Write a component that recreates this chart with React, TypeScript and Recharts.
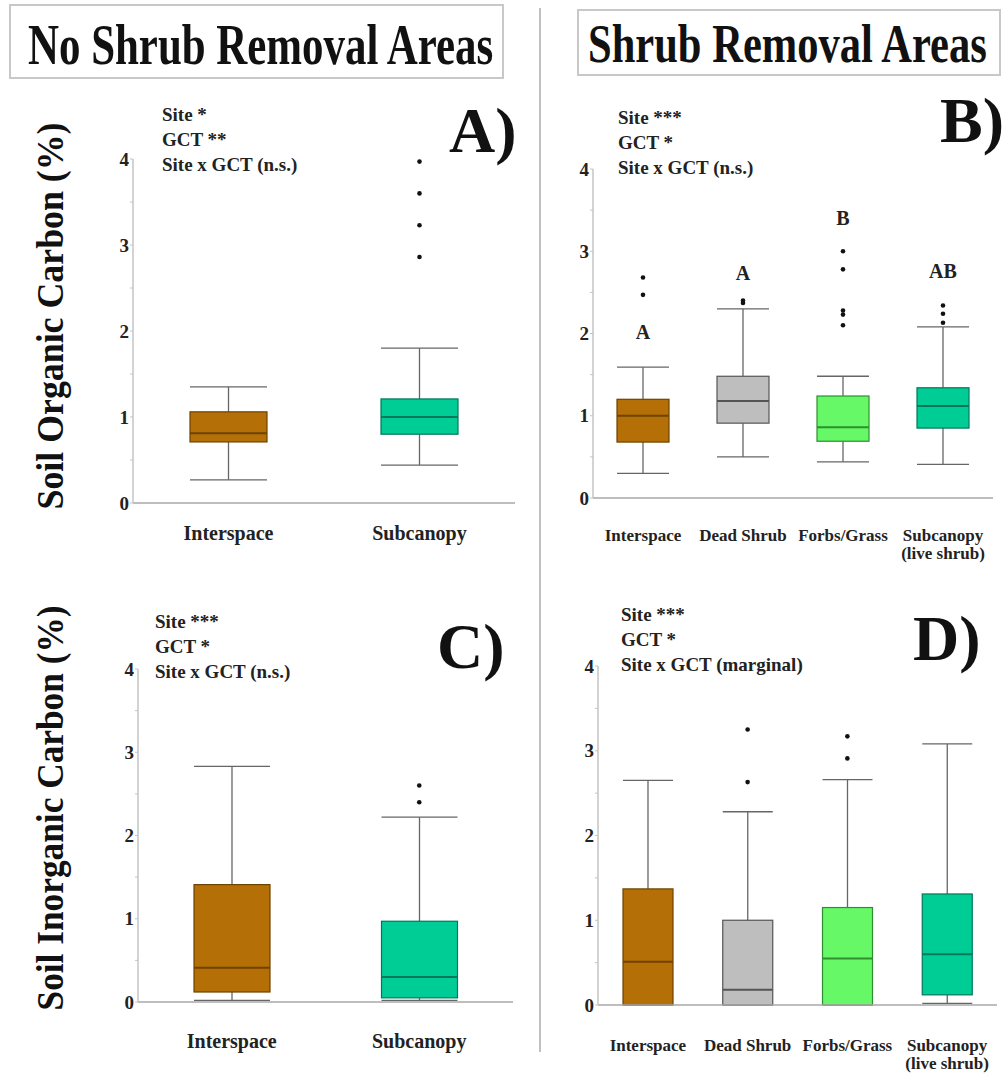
import React from 'react';
import { ComposedChart, Bar, Scatter, XAxis, YAxis } from 'recharts';

const serif = '"Liberation Serif", "Times New Roman", serif';

// categories
const twoGroups = ['Interspace', 'Subcanopy'];
const fourGroups = ['Interspace', 'Dead Shrub', 'Forbs/Grass', 'Subcanopy\n(live shrub)'];

// box colours per category
const twoFills = ['#b46f06', '#00cc96'];
const twoLines = ['#6e4200', '#00775a'];
const fourFills = ['#b46f06', '#bebebe', '#66f866', '#00cc96'];
const fourLines = ['#6e4200', '#555555', '#2f8f2f', '#00775a'];

// [low whisker, Q1, median, Q3, high whisker]
const organicNoRemoval = [
  [0.27, 0.71, 0.81, 1.06, 1.35],
  [0.44, 0.8, 1.0, 1.21, 1.8],
];
const organicRemoval = [
  [0.3, 0.68, 1.0, 1.2, 1.59],
  [0.5, 0.91, 1.18, 1.48, 2.3],
  [0.44, 0.69, 0.86, 1.24, 1.48],
  [0.41, 0.85, 1.12, 1.34, 2.08],
];
const inorganicNoRemoval = [
  [0.02, 0.12, 0.41, 1.41, 2.83],
  [0.02, 0.05, 0.3, 0.97, 2.22],
];
const inorganicRemoval = [
  [0.0, 0.0, 0.51, 1.37, 2.65],
  [0.0, 0.0, 0.18, 1.0, 2.28],
  [0.0, 0.0, 0.55, 1.15, 2.66],
  [0.02, 0.12, 0.6, 1.31, 3.08],
];

// outliers per category
const outliersA = [[], [3.97, 3.6, 3.23, 2.86]];
const outliersB = [[2.68, 2.47], [2.37, 2.4], [3.0, 2.78, 2.28, 2.23, 2.1], [2.34, 2.24, 2.13]];
const outliersC = [[], [2.6, 2.4]];
const outliersD = [[], [3.25, 2.63], [3.17, 2.91], []];

// group letters (panel B) and their heights
const lettersB = ['A', 'A', 'B', 'AB'];
const letterYB = [2.02, 2.73, 3.41, 2.76];

const yTicks = [0, 0.5, 1, 1.5, 2, 2.5, 3, 3.5, 4];

const CatTick = (props: any) => {
  const { x, y, payload, fontSize, dy, gap } = props;
  const lines = String(payload.value).split('\n');
  return (
    <text x={x} y={y + dy} textAnchor="middle" fontFamily={serif} fontWeight="bold" fontSize={fontSize} fill="#222">
      {lines.map((l: string, i: number) => (
        <tspan key={i} x={x} dy={i === 0 ? 0 : gap}>{l}</tspan>
      ))}
    </text>
  );
};

const BoxShape = (props: any) => {
  const { x, y, width, height, payload, index, fills, lines } = props;
  const [low, q1, med, q3, high] = payload.s;
  const top = Math.min(y, y + height);
  const h = Math.abs(height);
  const ppu = h / (high - low);
  const py = (v: number) => top + (high - v) * ppu;
  const cx = x + width / 2;
  const wc = '#666';
  return (
    <g>
      <line x1={cx} x2={cx} y1={py(high)} y2={py(q3)} stroke={wc} strokeWidth={1.3} />
      <line x1={cx} x2={cx} y1={py(q1)} y2={py(low)} stroke={wc} strokeWidth={1.3} />
      <line x1={x} x2={x + width} y1={py(high)} y2={py(high)} stroke={wc} strokeWidth={1.3} />
      <line x1={x} x2={x + width} y1={py(low)} y2={py(low)} stroke={wc} strokeWidth={1.3} />
      <rect x={x} y={py(q3)} width={width} height={py(q1) - py(q3)} fill={fills[index]} stroke={lines[index]} strokeWidth={1.2} />
      <line x1={x} x2={x + width} y1={py(med)} y2={py(med)} stroke={lines[index]} strokeWidth={2} />
    </g>
  );
};

type PanelProps = {
  left: number; top: number; right: number; bottom: number;
  cats: string[]; stats: number[][]; outliers: number[][];
  fills: string[]; lines: string[]; barSize: number;
  tickFont: number; tickDy: number;
  letters?: string[]; letterY?: number[];
};

const Panel = (p: PanelProps) => {
  const w = p.right - p.left;
  const h = p.bottom - p.top;
  const data = p.cats.map((c, i) => ({ cat: c, range: [p.stats[i][0], p.stats[i][4]], s: p.stats[i] }));
  const pts = p.outliers.flatMap((vals, i) => vals.map((v) => ({ cat: p.cats[i], v })));
  const lbl = p.letters ? p.letters.map((t, i) => ({ cat: p.cats[i], v: p.letterY![i], t })) : [];
  return (
    <div style={{ position: 'absolute', left: p.left - 50, top: p.top - 20 }}>
      <ComposedChart width={w + 60} height={h + 90} data={data} margin={{ top: 20, right: 10, bottom: 0, left: 0 }}>
        <XAxis
          dataKey="cat"
          type="category"
          allowDuplicatedCategory={false}
          height={70}
          interval={0}
          tickLine={false}
          tickSize={0}
          tickMargin={0}
          axisLine={{ stroke: '#a8a8a8', strokeWidth: 1.5 }}
          tick={<CatTick fontSize={p.tickFont} dy={p.tickDy} gap={18} />}
        />
        <YAxis
          type="number"
          domain={[0, 4]}
          ticks={yTicks}
          width={50}
          interval={0}
          tickSize={3}
          tickMargin={1}
          tickFormatter={(v: number) => (Number.isInteger(v) ? String(v) : '')}
          axisLine={{ stroke: '#c4c4c4', strokeWidth: 1.5 }}
          tickLine={{ stroke: '#c4c4c4' }}
          tick={{ fontFamily: serif, fontWeight: 'bold', fontSize: 19, fill: '#222' }}
        />
        <Bar
          dataKey="range"
          barSize={p.barSize}
          isAnimationActive={false}
          shape={(sp: any) => <BoxShape {...sp} fills={p.fills} lines={p.lines} />}
        />
        <Scatter
          data={pts}
          dataKey="v"
          isAnimationActive={false}
          shape={(sp: any) => <circle cx={sp.cx} cy={sp.cy} r={2.3} fill="#111" />}
        />
        {lbl.length > 0 && (
          <Scatter
            data={lbl}
            dataKey="v"
            isAnimationActive={false}
            shape={(sp: any) => (
              <text x={sp.cx} y={sp.cy + 7} textAnchor="middle" fontFamily={serif} fontWeight="bold" fontSize={20} fill="#222">
                {sp.payload.t}
              </text>
            )}
          />
        )}
      </ComposedChart>
    </div>
  );
};

const Note = ({ x, y, rows }: { x: number; y: number; rows: string[] }) => (
  <text x={x} y={y} fontFamily={serif} fontWeight="bold" fontSize={19} fill="#222">
    {rows.map((r, i) => (
      <tspan key={i} x={x} dy={i === 0 ? 0 : 25}>{r}</tspan>
    ))}
  </text>
);

const Tag = ({ x, y, t }: { x: number; y: number; t: string }) => (
  <text x={x} y={y} fontFamily={serif} fontWeight="bold" fontSize={64} fill="#111">{t}</text>
);

export default function App() {
  return (
    <div style={{ position: 'absolute', left: 0, top: 0, width: 1006, height: 1078, background: '#fff', overflow: 'hidden' }}>
      <Panel left={133} top={159} right={515} bottom={503} cats={twoGroups} stats={organicNoRemoval} outliers={outliersA}
        fills={twoFills} lines={twoLines} barSize={77} tickFont={20} tickDy={37} />
      <Panel left={593} top={169} right={993} bottom={498} cats={fourGroups} stats={organicRemoval} outliers={outliersB}
        fills={fourFills} lines={fourLines} barSize={52} tickFont={17} tickDy={43} letters={lettersB} letterY={letterYB} />
      <Panel left={138} top={669} right={513} bottom={1002} cats={twoGroups} stats={inorganicNoRemoval} outliers={outliersC}
        fills={twoFills} lines={twoLines} barSize={76} tickFont={20} tickDy={46} />
      <Panel left={598} top={666} right={997} bottom={1005} cats={fourGroups} stats={inorganicRemoval} outliers={outliersD}
        fills={fourFills} lines={fourLines} barSize={50} tickFont={17} tickDy={46} />

      <svg width={1006} height={1078} style={{ position: 'absolute', left: 0, top: 0, pointerEvents: 'none' }}>
        <rect x={10} y={5} width={493} height={73} fill="none" stroke="#c8c8c8" strokeWidth={2} />
        <rect x={578} y={10} width={422} height={65} fill="none" stroke="#c8c8c8" strokeWidth={2} />
        <text transform="translate(28,64) scale(0.766,1)" fontFamily={serif} fontWeight="bold" fontSize={56} fill="#111">
          No Shrub Removal Areas
        </text>
        <text transform="translate(588,62) scale(0.788,1)" fontFamily={serif} fontWeight="bold" fontSize={54} fill="#111">
          Shrub Removal Areas
        </text>
        <line x1={540} x2={540} y1={8} y2={1052} stroke="#c0c0c0" strokeWidth={2} />

        <text transform="translate(63,316) rotate(-90)" textAnchor="middle" fontFamily={serif} fontWeight="bold" fontSize={38}
          textLength={387} lengthAdjust="spacingAndGlyphs" fill="#111">
          Soil Organic Carbon (%)
        </text>
        <text transform="translate(63,808) rotate(-90)" textAnchor="middle" fontFamily={serif} fontWeight="bold" fontSize={38}
          textLength={405} lengthAdjust="spacingAndGlyphs" fill="#111">
          Soil Inorganic Carbon (%)
        </text>

        <Note x={162} y={121} rows={['Site *', 'GCT **', 'Site x GCT (n.s.)']} />
        <Note x={618} y={124} rows={['Site ***', 'GCT *', 'Site x GCT (n.s.)']} />
        <Note x={155} y={628} rows={['Site ***', 'GCT *', 'Site x GCT (n.s.)']} />
        <Note x={621} y={621} rows={['Site ***', 'GCT *', 'Site x GCT (marginal)']} />

        <Tag x={449} y={152} t="A)" />
        <Tag x={940} y={142} t="B)" />
        <Tag x={437} y={668} t="C)" />
        <Tag x={913} y={660} t="D)" />
      </svg>
    </div>
  );
}
